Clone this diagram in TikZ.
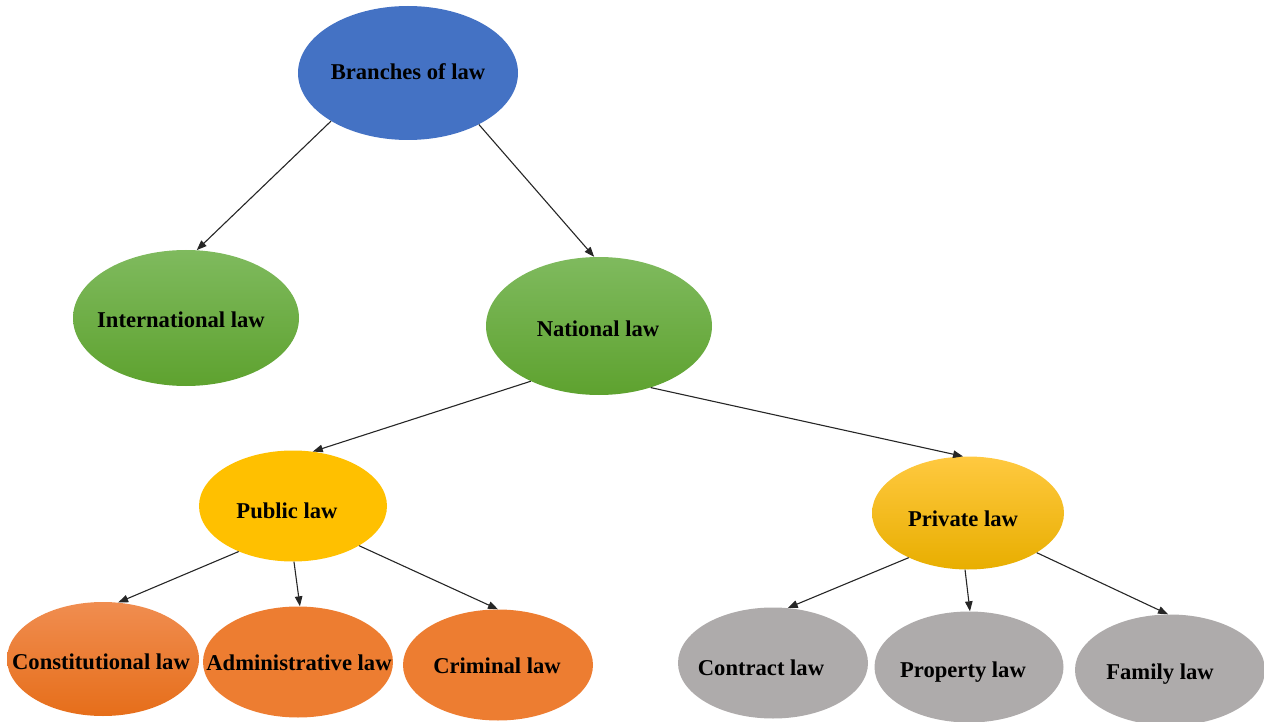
\documentclass[tikz,border=0pt]{standalone}
\usepackage{fontspec}
\setmainfont{Liberation Serif}
\usetikzlibrary{shapes.geometric,arrows.meta}
\definecolor{cblue}{HTML}{4472C4}
\definecolor{gtop}{HTML}{7FBA5E}
\definecolor{gbot}{HTML}{5EA22F}
\definecolor{cyel}{HTML}{FFC000}
\definecolor{ytop}{HTML}{FFC940}
\definecolor{ybot}{HTML}{E8AE00}
\definecolor{corg}{HTML}{ED7D31}
\definecolor{otop}{HTML}{F08D50}
\definecolor{obot}{HTML}{E66E1A}
\definecolor{cgray}{HTML}{AEABAB}
\tikzset{
  blob/.style={ellipse, draw=none, inner sep=0pt},
  big/.style={blob, minimum width=226pt, minimum height=136pt},
  mid/.style={blob, minimum width=190pt, minimum height=111pt},
  small/.style={blob, minimum width=190pt, minimum height=111pt},
  txt/.style={anchor=base, inner sep=0pt, font=\fontsize{22.6}{26}\selectfont\bfseries},
  conn/.style={draw=black!85, line width=1.1pt, -{Triangle[length=10pt,width=7.5pt]}}
}
\begin{document}
\begin{tikzpicture}[x=1pt,y=-1pt]
\useasboundingbox (0,0) rectangle (1264,722);
% nodes
\node[blob, minimum width=220pt, minimum height=134pt, fill=cblue] (root) at (408,73) {};
\node[big, top color=gtop, bottom color=gbot] (intl) at (186,318) {};
\node[big, minimum height=138pt, top color=gtop, bottom color=gbot] (nat) at (599,326) {};
\node[mid, minimum width=188pt, fill=cyel] (pub) at (293,506) {};
\node[mid, minimum width=192pt, minimum height=113pt, top color=ytop, bottom color=ybot] (priv) at (968,513) {};
\node[small, minimum width=192pt, minimum height=114pt, top color=otop, bottom color=obot] (const) at (103,659) {};
\node[small, fill=corg] (admin) at (298,662) {};
\node[small, fill=corg] (crim) at (498,665) {};
\node[small, fill=cgray] (contr) at (773,663) {};
\node[small, minimum width=189pt, fill=cgray] (prop) at (969,667) {};
\node[small, fill=cgray] (fam) at (1170,670) {};
% texts
\node[txt] (troot) at (408,80) {Branches of law};
\node[txt] (tintl) at (181,327) {International law};
\node[txt] (tnat) at (598,336) {National law};
\node[txt] (tpub) at (287,518) {Public law};
\node[txt] (tpriv) at (963,526) {Private law};
\node[txt] (tconst) at (101,669) {Constitutional law};
\node[txt] (tadmin) at (299,670) {Administrative law};
\node[txt] (tcrim) at (497,673) {Criminal law};
\node[txt] (tcontr) at (761,675) {Contract law};
\node[txt] (tprop) at (963,677) {Property law};
\node[txt] (tfam) at (1160,679) {Family law};
% connectors
\draw[conn] (root.212) -- (intl.81);
\draw[conn] (root.324) -- (nat.94);
\draw[conn] (nat.219) -- (pub.70);
\draw[conn] (nat.310) -- (priv.95);
\draw[conn] (pub.220) -- (const.75);
\draw[conn] (pub.271) -- (admin.88);
\draw[conn] (pub.329) -- (crim.90);
\draw[conn] (priv.217) -- (contr.75);
\draw[conn] (priv.267) -- (prop.89);
\draw[conn] (priv.330) -- (fam.92);
\end{tikzpicture}
\end{document}
